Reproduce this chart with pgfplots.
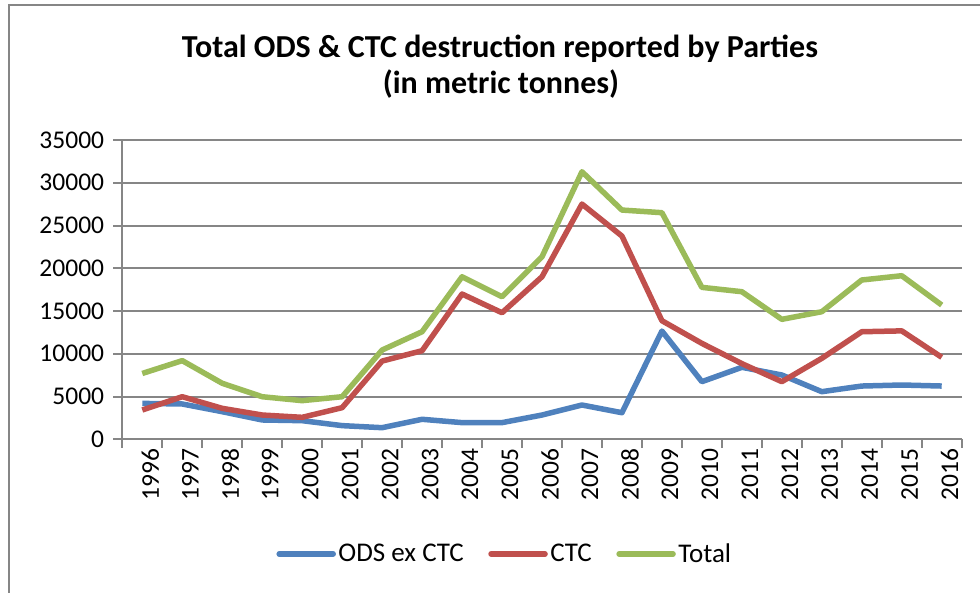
\documentclass[border=0pt]{standalone}
\usepackage{fontspec}
\setmainfont{Carlito}
\usepackage{pgfplots}
\pgfplotsset{compat=1.18}

\definecolor{odsblue}{HTML}{4F81BD}
\definecolor{ctcred}{HTML}{C0504D}
\definecolor{totgreen}{HTML}{9BBB59}
\definecolor{gridgray}{RGB}{134,134,134}

\begin{document}
\begin{tikzpicture}
\useasboundingbox (0pt,0pt) rectangle (980pt,-592pt);
% chart frame (only top and left edges are visible)
\draw[gridgray, line width=2.5pt] (9pt,-600pt) -- (9pt,-5pt) -- (990pt,-5pt);

\node[font=\fontsize{32}{38}\selectfont\bfseries, anchor=base] at (500pt,-57pt)
  {Total ODS \& CTC destruction reported by Parties};
\node[font=\fontsize{32}{38}\selectfont\bfseries, anchor=base] at (501pt,-93pt)
  {(in metric tonnes)};

\begin{axis}[
  at={(122.3pt,-439.3pt)}, anchor=south west,
  scale only axis,
  width=839.4pt, height=299.3pt,
  xmin=-0.5, xmax=20.5,
  ymin=0, ymax=35000,
  ytick={0,5000,...,35000},
  xtick={0,...,20},
  xticklabels={1996,1997,1998,1999,2000,2001,2002,2003,2004,2005,2006,2007,2008,2009,2010,2011,2012,2013,2014,2015,2016},
  minor xtick={-0.5,0.5,...,20.5},
  major x tick style={draw=none},
  xtick pos=bottom, ytick pos=left,
  tick align=outside,
  major tick length=9pt, minor tick length=8.5pt,
  every tick/.style={gridgray, line width=2pt},
  ymajorgrids,
  major grid style={gridgray, line width=2pt},
  axis x line*=bottom, axis y line*=left,
  axis line style={gridgray, line width=2pt, -},
  scaled y ticks=false,
  /pgf/number format/.cd, 1000 sep={}, assume math mode=true, /pgfplots/.cd,
  ticklabel style={font=\fontsize{25.5}{30}\selectfont},
  yticklabel style={anchor=east, inner sep=0pt, xshift=-9pt},
  xticklabel style={rotate=90, anchor=east, inner sep=0pt, yshift=-8pt},
  legend columns=3,
  legend style={at={(0.456,-0.383)}, anchor=center, draw=none, fill=none,
    font=\fontsize{27}{32}\selectfont,
    nodes={inner sep=2.5pt},
    /tikz/every even column/.append style={column sep=22pt}},
  legend image code/.code={\draw[#1, line width=5.5pt, line cap=round] (0pt,0pt) -- (54pt,0pt);},
  every axis plot/.append style={line width=5.5pt, line join=round},
]

% ODS ex CTC
\addplot[odsblue] coordinates {
  (0,4200) (1,4130) (2,3230) (3,2260) (4,2180) (5,1600) (6,1360) (7,2340)
  (8,1950) (9,1950) (10,2840) (11,4010) (12,3110) (13,12660) (14,6740)
  (15,8420) (16,7520) (17,5570) (18,6230) (19,6350) (20,6230)
};

% CTC
\addplot[ctcred] coordinates {
  (0,3430) (1,4980) (2,3620) (3,2840) (4,2570) (5,3700) (6,9150) (7,10360)
  (8,16990) (9,14800) (10,19010) (11,27510) (12,23770) (13,13870) (14,11220)
  (15,8850) (16,6740) (17,9470) (18,12580) (19,12680) (20,9590)
};

% Total
\addplot[totgreen] coordinates {
  (0,7700) (1,9200) (2,6550) (3,4980) (4,4520) (5,4980) (6,10440) (7,12580)
  (8,19010) (9,16670) (10,21350) (11,31290) (12,26810) (13,26500) (14,17770)
  (15,17260) (16,14030) (17,14920) (18,18630) (19,19130) (20,15700)
};

\legend{ODS ex CTC, CTC, Total}
\end{axis}
\end{tikzpicture}
\end{document}
